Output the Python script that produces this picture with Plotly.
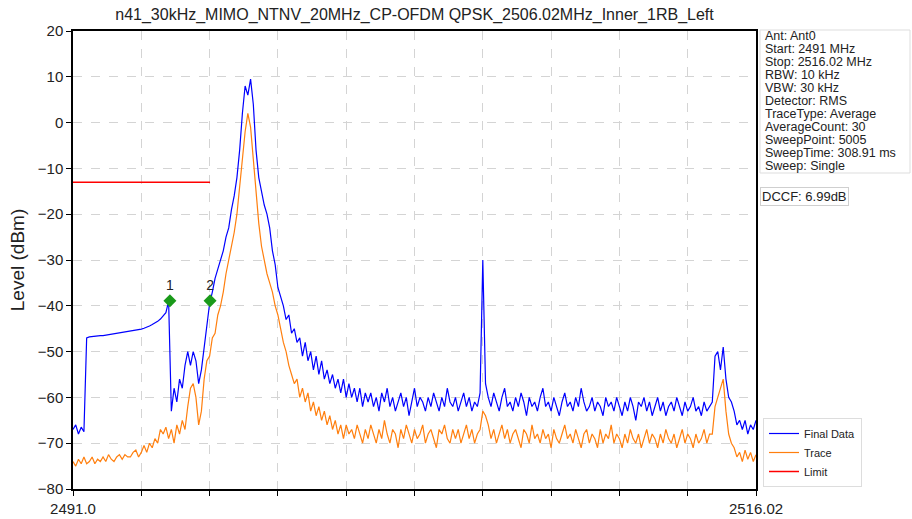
import numpy as np
import plotly.graph_objects as go

# sweep settings (x axis grid of the analyser)
START_MHZ = 2491.0
STOP_MHZ = 2516.02

# Final Data trace, dBm, one value per ~0.1 MHz step of the sweep
final_data_dbm = [
    -67, -66, -68, -66.5, -67.5, -47, -46.8, -46.7, -46.7, -46.6,
    -46.5, -46.5, -46.4, -46.3, -46.3, -46.2, -46.1, -46.0, -45.9, -45.8,
    -45.7, -45.6, -45.5, -45.4, -45.3, -45.1, -44.9, -44.7, -44.4, -44.1,
    -43.8, -43.4, -42.9, -42.3, -41.5, -39.0, -63, -58, -61, -56,
    -58, -53, -50, -53, -50, -52, -57, -54, -49, -45,
    -39.5, -37, -34, -32, -30, -28, -25, -23, -19, -16,
    -12, -6, 2, 8, 6, 9.5, 4, -6, -12, -15,
    -18, -20, -23, -28, -31, -36, -38, -40, -43, -42,
    -46, -45, -48, -47, -51, -48, -52, -50, -54, -51,
    -55, -52, -56, -54, -57, -55, -58, -56, -59, -56,
    -60, -57, -60, -58, -61, -58, -62, -59, -61, -59,
    -62, -60, -63, -59, -61, -58, -62, -60, -63, -61,
    -59, -62, -60, -64, -61, -58, -62, -60, -61, -63,
    -60, -62, -59, -61, -63, -60, -62, -58, -61, -62,
    -60, -63, -61, -59, -62, -60, -63, -61, -62, -59,
    -30, -57, -60, -62, -59, -61, -63, -60, -58, -62,
    -61, -63, -60, -62, -59, -61, -64, -60, -62, -61,
    -63, -60, -58, -62, -61, -63, -60, -62, -64, -61,
    -59, -62, -61, -63, -60, -62, -58, -61, -63, -62,
    -60, -63, -61, -62, -64, -60, -62, -61, -63, -60,
    -62, -64, -61, -63, -60, -62, -65, -61, -62, -60,
    -63, -61, -64, -62, -60, -63, -61, -64, -62, -61,
    -63, -60, -62, -64, -61, -63, -62, -60, -63, -62,
    -64, -61, -63, -62, -61, -51, -50, -54, -49, -56,
    -60, -61, -63, -66, -65, -67, -65, -68, -66, -67,
    -65,
]

# Trace (average) trace, dBm
trace_dbm = [
    -74, -75, -73.5, -74.5, -73, -74.5, -74, -73, -74.5, -73.5,
    -74, -73, -74, -72.5, -73.5, -74, -73, -72.5, -73.5, -72.5,
    -73, -73, -72, -71.5, -73, -72, -70.5, -72, -70, -71,
    -69, -70, -67, -68, -66.5, -69, -67, -70, -66, -68,
    -65, -67, -62, -58, -57, -60, -66, -63, -56, -52,
    -51, -47, -46, -42, -40, -37, -33, -30, -27, -24,
    -20, -14, -7, -2, 2, -1, -8, -15, -22, -27,
    -30, -33, -35, -37, -40, -42, -45, -48, -50, -53,
    -55, -57, -56, -60, -58, -61, -59, -63, -61, -64,
    -62, -65, -63, -66, -64, -67, -65, -68, -66, -69,
    -66, -68, -67, -69, -66, -68, -70, -67, -69, -66,
    -68, -70, -67, -69, -65, -68, -70, -67, -68, -71,
    -67, -69, -66, -68, -70, -67, -69, -68, -66, -70,
    -68, -67, -69, -71, -67, -68, -66, -69, -70, -67,
    -69, -67, -70, -68, -66, -69, -67, -70, -68, -67,
    -63, -64, -66, -69, -67, -70, -68, -66, -69, -67,
    -70, -68, -67, -69, -71, -67, -68, -70, -66, -69,
    -68, -70, -67, -69, -68, -71, -67, -69, -70, -68,
    -66, -69, -68, -70, -67, -69, -71, -68, -67, -70,
    -68, -69, -71, -67, -70, -68, -69, -66, -70, -68,
    -69, -71, -68, -70, -67, -69, -70, -68, -71, -69,
    -67, -70, -68, -69, -71, -68, -70, -67, -69, -70,
    -68, -71, -69, -67, -70, -68, -69, -71, -68, -70,
    -69, -67, -70, -68, -68, -62, -60, -58, -56, -63,
    -68, -70, -71, -73, -72, -74, -71.5, -73.5, -72, -74,
    -72.5,
]

limit_mhz = [2491.0, 2496.02]
limit_dbm = [-13, -13]

marker_mhz = [2494.55, 2496.02]
marker_dbm = [-38.9, -38.9]
marker_names = ["1", "2"]

x_tick_text = ["2491.0", "", "", "", "", "", "", "", "", "", "2516.02"]

info_lines = [
    "Ant: Ant0",
    "Start: 2491 MHz",
    "Stop: 2516.02 MHz",
    "RBW: 10 kHz",
    "VBW: 30 kHz",
    "Detector: RMS",
    "TraceType: Average",
    "AverageCount: 30",
    "SweepPoint: 5005",
    "SweepTime: 308.91 ms",
    "Sweep: Single",
]
dccf_text = "DCCF: 6.99dB"

FONT = "Arial, Liberation Sans, sans-serif"

freq_final = np.linspace(START_MHZ, STOP_MHZ, len(final_data_dbm))
freq_trace = np.linspace(START_MHZ, STOP_MHZ, len(trace_dbm))

fig = go.Figure()
fig.add_trace(go.Scatter(x=freq_final, y=final_data_dbm, mode="lines", name="Final Data",
                         line=dict(color="#0000ff", width=1.2)))
fig.add_trace(go.Scatter(x=freq_trace, y=trace_dbm, mode="lines", name="Trace",
                         line=dict(color="#ff7f0e", width=1.2)))
fig.add_trace(go.Scatter(x=limit_mhz, y=limit_dbm, mode="lines", name="Limit",
                         line=dict(color="#ff0000", width=1.5)))
fig.add_trace(go.Scatter(x=marker_mhz, y=marker_dbm, mode="markers+text", text=marker_names,
                         textposition="top center", textfont=dict(size=14, color="#222", family=FONT),
                         marker=dict(symbol="diamond", size=10, color="#1a9a1a"),
                         showlegend=False, hoverinfo="skip"))

# plot area in pixels: x 73..756, y 31..489
W, H = 912, 519
L, R, T, B = 73, 756, 31, 489
def px_x(px):
    return (px - L) / (R - L)
def px_y(py):
    return (B - py) / (B - T)

annotations = []
for k, line in enumerate(info_lines):
    annotations.append(dict(text=line, xref="paper", yref="paper", x=px_x(763), y=px_y(36 + k * 13),
                            xanchor="left", yanchor="middle", showarrow=False,
                            font=dict(size=12.5, color="#222", family=FONT)))
annotations.append(dict(text=dccf_text, xref="paper", yref="paper", x=px_x(760), y=px_y(197),
                        xanchor="left", yanchor="middle", showarrow=False,
                        bordercolor="#cfcfcf", borderwidth=1, borderpad=1,
                        font=dict(size=13, color="#222", family=FONT)))

fig.update_layout(
    width=W, height=H,
    margin=dict(l=L, r=W - R, t=T, b=H - B, autoexpand=False),
    paper_bgcolor="white", plot_bgcolor="white",
    font=dict(family=FONT, color="#222"),
    title=dict(text="n41_30kHz_MIMO_NTNV_20MHz_CP-OFDM QPSK_2506.02MHz_Inner_1RB_Left",
               x=0.5, xref="paper", y=1 - 14 / H, yanchor="middle", automargin=False,
               font=dict(size=16, color="#222", family=FONT)),
    showlegend=True,
    legend=dict(x=px_x(763), y=px_y(487), xanchor="left", yanchor="bottom",
                bordercolor="#dddddd", borderwidth=1, bgcolor="white",
                font=dict(size=11, color="#222", family=FONT), tracegroupgap=0),
    annotations=annotations,
    shapes=[dict(type="rect", xref="paper", yref="paper",
                 x0=px_x(760), x1=px_x(910), y0=px_y(173), y1=px_y(30),
                 line=dict(color="#dddddd", width=1))],
)
fig.update_xaxes(range=[START_MHZ, STOP_MHZ], tickvals=np.linspace(START_MHZ, STOP_MHZ, 11),
                 ticktext=x_tick_text, ticks="outside", ticklen=5, tickcolor="black",
                 showline=True, mirror=True, linecolor="black", linewidth=1.5, automargin=False,
                 showgrid=True, gridcolor="#d4d4d4", griddash="dash", zeroline=False,
                 tickfont=dict(size=15, family=FONT, color="#222"))
fig.update_yaxes(range=[-80, 20], dtick=10, ticks="outside", ticklen=5, tickcolor="black",
                 showline=True, mirror=True, linecolor="black", linewidth=1.5, automargin=False,
                 showgrid=True, gridcolor="#d4d4d4", griddash="dash", zeroline=False,
                 title=dict(text="Level (dBm)", font=dict(size=19, family=FONT, color="#222"), standoff=8),
                 tickfont=dict(size=15, family=FONT, color="#222"))

# drop the default 8px page margin so the figure fills the window exactly
fig.write_html("out.html", config={"displayModeBar": False},
               post_script="document.body.style.margin='0';")
